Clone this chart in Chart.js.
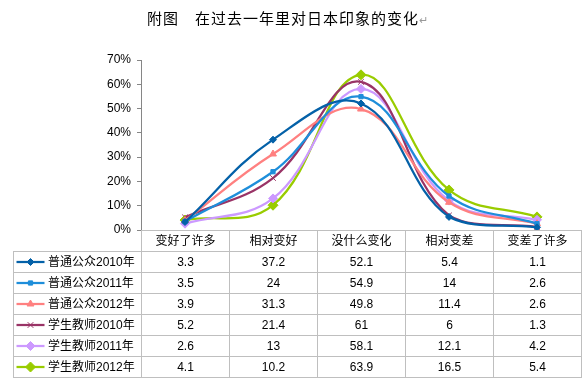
<!DOCTYPE html>
<html>
<head>
<meta charset="utf-8">
<script src="https://cdn.jsdelivr.net/npm/chart.js@4.4.1/dist/chart.umd.min.js"></script>
<style>
body{margin:0;background:#fff;}
#wrap{position:relative;width:588px;height:384px;overflow:hidden;font-family:Arial,"Liberation Sans","Noto Sans CJK SC",sans-serif;}
#chart{position:absolute;left:0;top:0;}
#title{position:absolute;left:147px;top:7px;font-size:15px;letter-spacing:1px;font-family:"Noto Sans CJK SC",sans-serif;color:#000;white-space:nowrap}
#title span{color:#999;font-size:11px;letter-spacing:0}
#tbl{position:absolute;left:13px;top:230px;border-collapse:collapse;font-size:12px;color:#000}
#tbl td{border:1px solid #bfbfbf;height:20px;padding:0;text-align:center;width:87px;line-height:12px}
#tbl td.lg{width:93px;text-align:left;padding-left:34px;white-space:nowrap}
#tbl td.blank{border-top:none;border-left:none}
</style>
</head>
<body>
<div id="wrap">
<canvas id="chart" width="588" height="384"></canvas>
<div id="title">附图　在过去一年里对日本印象的变化<span>↵</span></div>
<table id="tbl"></table>
</div>
<script>
// 分类 / 系列
var categories = ['变好了许多', '相对变好', '没什么变化', '相对变差', '变差了许多'];
var seriesNames = ['普通公众2010年', '普通公众2011年', '普通公众2012年', '学生教师2010年', '学生教师2011年', '学生教师2012年'];
var pub2010 = [3.3, 37.2, 52.1, 5.4, 1.1];
var pub2011 = [3.5, 24, 54.9, 14, 2.6];
var pub2012 = [3.9, 31.3, 49.8, 11.4, 2.6];
var stu2010 = [5.2, 21.4, 61, 6, 1.3];
var stu2011 = [2.6, 13, 58.1, 12.1, 4.2];
var stu2012 = [4.1, 10.2, 63.9, 16.5, 5.4];
var yTicks = [0, 10, 20, 30, 40, 50, 60, 70];

var seriesData = [pub2010, pub2011, pub2012, stu2010, stu2011, stu2012];
var colors = ['#0461A8', '#1E8EDA', '#FF8080', '#993366', '#CC99FF', '#99CC00'];
var styles = ['rectRot', 'rect', 'triangle', 'crossRot', 'rectRot', 'rectRot'];
var radii = [3.5, 3, 4, 4, 4.5, 5];

// 表格
var tbl = document.getElementById('tbl');
var s = '<tr><td class="lg blank"></td>';
categories.forEach(function(c){ s += '<td>' + c + '</td>'; });
s += '</tr>';
seriesNames.forEach(function(n, i){
    s += '<tr><td class="lg">' + n + '</td>';
    seriesData[i].forEach(function(v){ s += '<td>' + v + '</td>'; });
    s += '</tr>';
});
tbl.innerHTML = s;

var legendInTable = {
    id: 'legendInTable',
    afterDraw: function(chart){
        var ctx = chart.ctx;
        var wrapRect = document.getElementById('wrap').getBoundingClientRect();
        var rows = tbl.rows;
        chart.data.datasets.forEach(function(ds, i){
            var r = rows[i + 1].cells[0].getBoundingClientRect();
            var x0 = r.left - wrapRect.left;
            var y = r.top - wrapRect.top + r.height / 2;
            ctx.save();
            ctx.strokeStyle = ds.borderColor;
            ctx.fillStyle = ds.pointBackgroundColor;
            ctx.lineWidth = ds.borderWidth;
            ctx.beginPath();
            ctx.moveTo(x0 + 3, y);
            ctx.lineTo(x0 + 31, y);
            ctx.stroke();
            ctx.lineWidth = 1;
            Chart.helpers.drawPoint(ctx, {pointStyle: ds.pointStyle, radius: ds.pointRadius, rotation: 0, borderWidth: 1}, x0 + 17, y);
            ctx.restore();
        });
    }
};

var datasets = seriesNames.map(function(n, i){
    return {
        label: n,
        data: seriesData[i],
        borderColor: colors[i],
        backgroundColor: colors[i],
        pointBackgroundColor: colors[i],
        pointBorderColor: colors[i],
        pointStyle: styles[i],
        pointRadius: radii[i],
        pointBorderWidth: 1,
        borderWidth: 2.25,
        tension: 0.4,
        fill: false
    };
});

new Chart(document.getElementById('chart'), {
    type: 'line',
    data: {labels: categories, datasets: datasets},
    options: {
        responsive: false,
        animation: false,
        events: [],
        layout: {padding: {left: 0, right: 7, top: 60, bottom: 154}},
        plugins: {legend: {display: false}, tooltip: {enabled: false}, title: {display: false}},
        scales: {
            x: {type: 'category', offset: true, display: false},
            y: {
                min: 0, max: 70,
                afterBuildTicks: function(scale){ scale.ticks = yTicks.map(function(v){ return {value: v}; }); },
                afterFit: function(scale){ scale.width = 141; },
                border: {display: true, color: '#868686', width: 1},
                grid: {drawOnChartArea: false, drawTicks: true, tickLength: 4, color: '#868686'},
                ticks: {
                    color: '#000', padding: 6,
                    font: {family: 'Arial, "Liberation Sans"', size: 12},
                    callback: function(v){ return v + '%'; }
                }
            }
        }
    },
    plugins: [legendInTable]
});
</script>
</body>
</html>
